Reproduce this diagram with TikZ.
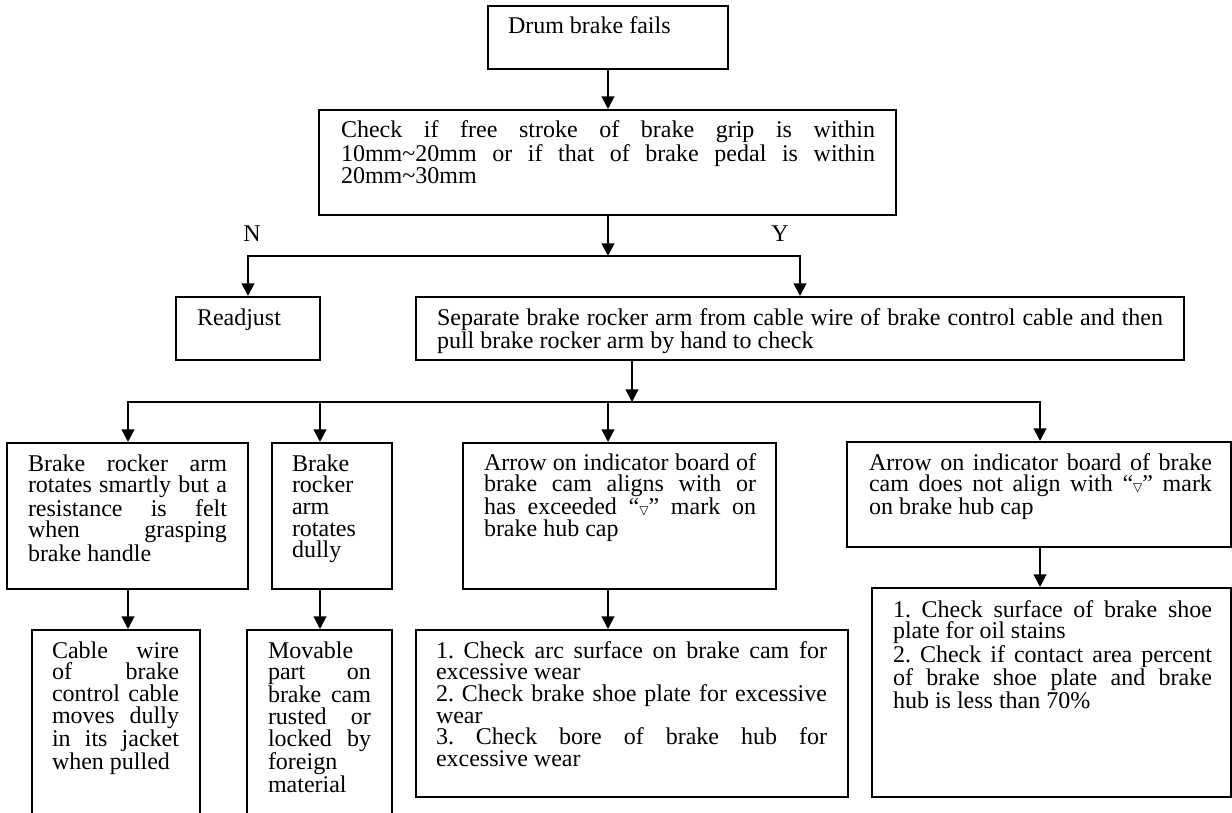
\documentclass[tikz,border=0pt]{standalone}
\usepackage{fontspec}
\setmainfont{Liberation Serif}
\newfontfamily\dvsfont{DejaVu Sans}
\usetikzlibrary{arrows.meta,fit}
\newcommand\jrow[1]{\makebox[\hsize][s]{\spaceskip=0.25em plus 1fil\relax\xspaceskip=0.25em plus 1fil\relax #1}}
\newcommand\tri{{\dvsfont\fontsize{9pt}{9pt}\selectfont ▽}}
\begin{document}
\lineskiplimit=-20pt
\frenchspacing
\begin{tikzpicture}[x=0.75pt,y=-0.75pt,line width=1.5pt,
  box/.style={draw,rectangle,inner sep=0pt},
  arr/.style={-{Triangle[length=9.5pt,width=9.5pt]}},
  arr2/.style={{Triangle[length=9.5pt,width=9.5pt]}-{Triangle[length=9.5pt,width=9.5pt]}},
  txt/.style={anchor=base west,inner sep=0pt,outer sep=0pt,align=left,
    font=\fontsize{18pt}{16.3pt}\selectfont,
    execute at begin node={\spaceskip=0.25em\relax\xspaceskip=0.25em\relax}}]
\useasboundingbox (0,0) rectangle (1232,813);
\clip (0,0) rectangle (1232,813);

% boxes
\node[box,fit={(488,6) (728,69)}] (b1) {};
\node[box,fit={(319,110) (896,215)}] (b2) {};
\node[box,fit={(176,297) (320,360)}] (readj) {};
\node[box,fit={(416,297) (1184,360)}] (sep) {};
\node[box,fit={(7,443) (248,589)}] (A) {};
\node[box,fit={(272,443) (392,589)}] (B) {};
\node[box,fit={(463,443) (776,589)}] (C) {};
\node[box,fit={(847,442) (1231,547)}] (D) {};
\node[box,fit={(32,630) (200,840)}] (A2) {};
\node[box,fit={(247,630) (392,840)}] (B2) {};
\node[box,fit={(416,630) (848,797)}] (C2) {};
\node[box,fit={(872,588) (1231,797)}] (D2) {};

% texts
\node[txt] (t1) at (508,34) {Drum brake fails};
\node[txt,text width=400.5pt] (t2) at (341,138) {\jrow{Check if free stroke of brake grip is within}\\\jrow{10mm\textasciitilde 20mm or if that of brake pedal is within}\\20mm\textasciitilde 30mm};
\node[txt,anchor=base] (lN) at (252,242) {N};
\node[txt,anchor=base] (lY) at (780,242) {Y};
\node[txt] (tr) at (197,325) {Readjust};
\node[txt,text width=544.5pt] (ts) at (437,325) {\jrow{Separate brake rocker arm from cable wire of brake control cable and then}\\pull brake rocker arm by hand to check};
\node[txt,text width=149.25pt] (tA) at (28,471) {\jrow{Brake rocker arm}\\\jrow{rotates smartly but a}\\\jrow{resistance is felt}\\\jrow{when grasping}\\brake handle};
\node[txt,text width=60pt] (tB) at (292,471) {Brake\\rocker\\arm\\rotates\\dully};
\node[txt,text width=204pt] (tC) at (484,470) {\jrow{Arrow on indicator board of}\\\jrow{brake cam aligns with or}\\\jrow{has exceeded “\tri” mark on}\\brake hub cap};
\node[txt,text width=257.25pt] (tD) at (869,470) {\jrow{Arrow on indicator board of brake}\\\jrow{cam does not align with “\tri” mark}\\on brake hub cap};
\node[txt,text width=95.25pt] (tA2) at (52,658) {\jrow{Cable wire}\\\jrow{of brake}\\\jrow{control cable}\\\jrow{moves dully}\\\jrow{in its jacket}\\when pulled};
\node[txt,text width=77.25pt] (tB2) at (268,658) {Movable\\\jrow{part on}\\\jrow{brake cam}\\\jrow{rusted or}\\\jrow{locked by}\\foreign\\material};
\node[txt,text width=293.25pt] (tC2) at (436,658) {\jrow{1. Check arc surface on brake cam for}\\excessive wear\\\jrow{2. Check brake shoe plate for excessive}\\wear\\\jrow{3. Check bore of brake hub for}\\excessive wear};
\node[txt,text width=239.25pt] (tD2) at (893,617) {\jrow{1. Check surface of brake shoe}\\plate for oil stains\\\jrow{2. Check if contact area percent}\\\jrow{of brake shoe plate and brake}\\hub is less than 70\%};

% connectors
\draw[arr] (b1.south) -- (b1.south |- b2.north);
\coordinate (s1) at (608,256);
\draw[arr] (b2.south -| s1) -- (s1);
\draw[arr2] (readj.north) -- (readj.north |- s1) -- (sep.north |- s1) -- (sep.north);
\coordinate (s2) at (632,402);
\draw[arr] (sep.south -| s2) -- (s2);
\coordinate (dA) at (128,402);
\coordinate (dB) at (320,402);
\coordinate (dC) at (608,402);
\coordinate (dD) at (1040,402);
\draw[arr2] (dA |- A.north) -- (dA) -- (dD) -- (dD |- D.north);
\draw[arr] (dB) -- (dB |- B.north);
\draw[arr] (dC) -- (dC |- C.north);
\draw[arr] (A.south -| dA) -- (A2.north -| dA);
\draw[arr] (B.south -| dB) -- (B2.north -| dB);
\draw[arr] (C.south -| dC) -- (C2.north -| dC);
\draw[arr] (D.south -| dD) -- (D2.north -| dD);
\end{tikzpicture}
\end{document}
